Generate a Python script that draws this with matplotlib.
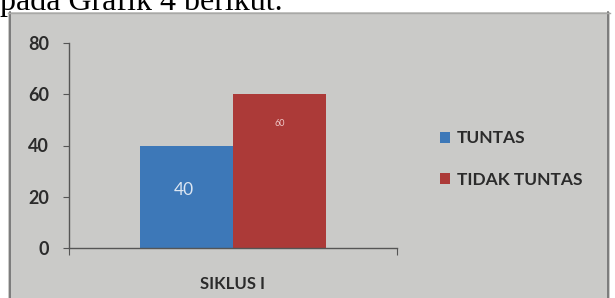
import matplotlib
matplotlib.use("Agg")
import matplotlib.pyplot as plt
from matplotlib.patches import Rectangle

# Data
categories = ["SIKLUS I"]
series_names = ["TUNTAS", "TIDAK TUNTAS"]
tuntas = [40]
tidak_tuntas = [60]
yticks = [0, 20, 40, 60, 80]

BLUE = "#3d78b8"
RED = "#ac3a38"
PAPER = "#cacac8"
INK = "#2b2b2b"

W, H = 615, 298
fig = plt.figure(figsize=(W / 100, H / 100), dpi=100, facecolor="white")

# scanned page: grey chart area below a line of body text
bg = fig.add_axes([0, 0, 1, 1], zorder=-1)
bg.set_xlim(0, W)
bg.set_ylim(H, 0)
bg.axis("off")
bg.add_patch(Rectangle((8, 12), 602, H - 12, facecolor=PAPER, edgecolor="none"))
bg.plot([10, 10], [12, H], color="#6e6e6e", lw=1.2)
bg.plot([608, 608], [12, H], color="#6e6e6e", lw=1.2)
bg.plot([8, 610], [13, 13], color="#a8a8a6", lw=1.0)
bg.text(0, 10, "pada Grafik 4 berikut.", family="Liberation Serif",
        fontsize=23, color="black", va="baseline", ha="left")

ax = fig.add_axes([69 / W, 1 - 248 / H, 328 / W, 205 / H])
ax.set_facecolor("none")

width = 0.284
x = list(range(len(categories)))
b1 = ax.bar([i - width / 2 for i in x], tuntas, width, color=BLUE, label=series_names[0])
b2 = ax.bar([i + width / 2 for i in x], tidak_tuntas, width, color=RED, label=series_names[1])

for rect, v in zip(b1, tuntas):
    ax.annotate(str(v), (rect.get_x() + rect.get_width() / 2, v / 2), xytext=(-2, 5),
                textcoords="offset points", ha="center", va="center",
                color="#dce6f2", fontsize=12.5, family="Lato")
for rect, v in zip(b2, tidak_tuntas):
    ax.annotate(str(v), (rect.get_x() + rect.get_width() / 2, v), xytext=(0, -21),
                textcoords="offset points", ha="center", va="center",
                color="#f0c8c8", fontsize=6.5, family="Lato")

ax.set_xlim(-0.5, len(categories) - 0.5)
ax.set_ylim(0, 80)
ax.set_yticks(yticks)
ax.set_xticks([-0.5, 0.5])
ax.set_xticklabels([])
ax.set_xticks(x, minor=True)
ax.set_xticklabels(categories, minor=True)
ax.tick_params(axis="x", which="major", direction="out", length=5, color="#555555")
ax.tick_params(axis="x", which="minor", length=0, pad=20, labelsize=12, labelcolor=INK)
ax.tick_params(axis="y", direction="out", length=4.5, color="#555555", pad=10,
               labelsize=13, labelcolor=INK)
for lab in ax.get_yticklabels() + ax.get_xticklabels(minor=True):
    lab.set_fontweight("bold")
    lab.set_family("Lato")

for s in ("top", "right"):
    ax.spines[s].set_visible(False)
for s in ("left", "bottom"):
    ax.spines[s].set_color("#555555")
    ax.spines[s].set_linewidth(1.0)

leg = fig.legend(handles=[b1, b2], loc="center left",
                 bbox_to_anchor=(424 / W, 1 - 159 / H), frameon=False,
                 prop={"family": "Lato", "weight": "bold", "size": 12.5},
                 labelcolor=INK, handlelength=0.6, handleheight=0.6,
                 handletextpad=0.4, labelspacing=1.45)

fig.savefig("out.png", dpi=100, facecolor="white")
